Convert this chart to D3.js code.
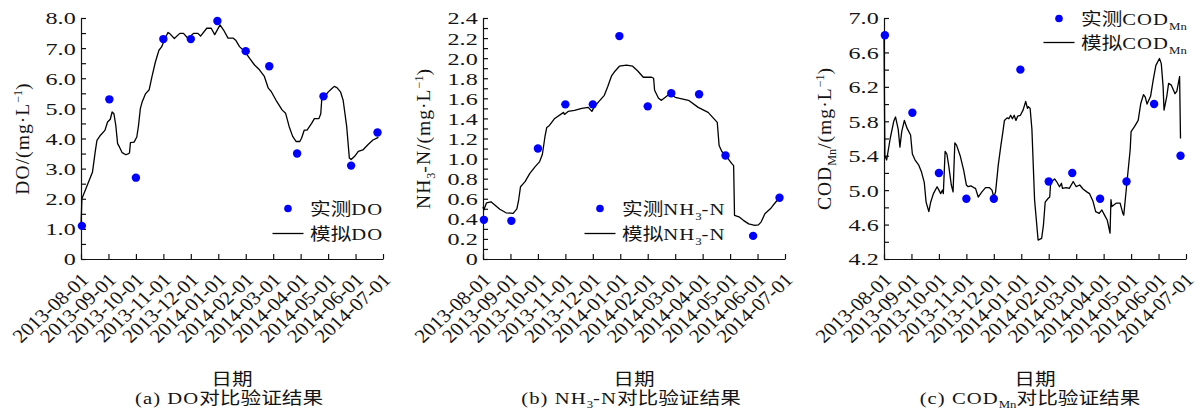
<!DOCTYPE html>
<html>
<head>
<meta charset="utf-8">
<script src="https://cdn.jsdelivr.net/npm/d3@7"></script>
<style>
  body { margin: 0; background: #fff; }
  svg { display: block; }
  text { font-family: "Liberation Serif", "Times New Roman", "Noto Sans CJK SC", serif; fill: #141414; }
</style>
</head>
<body>
<svg id="chart" width="1201" height="419"></svg>
<script>
// ---- data ----
const monthTicks = ["2013-08-01","2013-09-01","2013-10-01","2013-11-01","2013-12-01","2014-01-01",
                    "2014-02-01","2014-03-01","2014-04-01","2014-05-01","2014-06-01","2014-07-01"];

const obsDates = ["2013-08-02","2013-09-02","2013-10-01","2013-11-01","2013-12-01","2013-12-31",
                  "2014-02-01","2014-02-25","2014-03-28","2014-04-26","2014-05-27","2014-06-25"];

const doObs  = [1.1, 5.3, 2.7, 7.3, 7.3, 7.9, 6.9, 6.4, 3.5, 5.4, 3.1, 4.2];
const nhObs  = [0.39, 0.38, 1.10, 1.54, 1.54, 2.22, 1.52, 1.65, 1.64, 1.03, 0.23, 0.61];
const codObs = [6.8, 5.9, 5.2, 4.9, 4.9, 6.4, 5.1, 5.2, 4.9, 5.1, 6.0, 5.4];

const doTicks = [0, 1, 2, 3, 4, 5, 6, 7, 8];
const doMinor = [0.5, 1.5, 2.5, 3.5, 4.5, 5.5, 6.5, 7.5];
const nhTicks = [0, 0.2, 0.4, 0.6, 0.8, 1.0, 1.2, 1.4, 1.6, 1.8, 2.0, 2.2, 2.4];
const nhMinor = [0.1, 0.3, 0.5, 0.7, 0.9, 1.1, 1.3, 1.5, 1.7, 1.9, 2.1, 2.3];
const codTicks = [4.2, 4.6, 5.0, 5.4, 5.8, 6.2, 6.6, 7.0];
const codMinor = [4.4, 4.8, 5.2, 5.6, 6.0, 6.4, 6.8];

const doSim = [
  ["2013-08-01",1.1],["2013-08-02",2.0],["2013-08-14",2.89],["2013-08-17",3.55],["2013-08-19",3.94],
  ["2013-08-23",4.11],["2013-08-28",4.27],["2013-08-31",4.55],["2013-09-03",4.64],["2013-09-05",4.88],
  ["2013-09-07",4.82],["2013-09-09",4.44],["2013-09-11",3.83],["2013-09-13",3.72],["2013-09-16",3.53],
  ["2013-09-20",3.46],["2013-09-23",3.50],["2013-09-24",3.52],["2013-09-25",3.86],["2013-09-29",3.88],
  ["2013-10-02",4.05],["2013-10-04",4.44],["2013-10-06",4.99],["2013-10-08",5.21],["2013-10-12",5.49],
  ["2013-10-16",5.62],["2013-10-19",6.04],["2013-10-23",6.54],["2013-10-27",6.93],["2013-10-30",7.04],
  ["2013-11-02",7.26],["2013-11-06",7.52],["2013-11-08",7.48],["2013-11-13",7.32],["2013-11-19",7.49],
  ["2013-11-23",7.49],["2013-11-28",7.32],["2013-12-04",7.49],["2013-12-09",7.49],["2013-12-12",7.40],
  ["2013-12-19",7.66],["2013-12-24",7.66],["2013-12-28",7.45],["2014-01-03",7.77],["2014-01-07",7.60],
  ["2014-01-12",7.33],["2014-01-18",7.33],["2014-01-21",7.25],["2014-01-25",7.05],["2014-01-31",6.88],
  ["2014-02-05",6.66],["2014-02-10",6.44],["2014-02-15",6.28],["2014-02-20",6.06],["2014-02-24",5.67],
  ["2014-02-27",5.56],["2014-03-05",5.23],["2014-03-11",4.95],["2014-03-15",4.84],["2014-03-19",4.40],
  ["2014-03-23",4.07],["2014-03-27",3.90],["2014-03-31",3.90],["2014-04-02",4.01],["2014-04-05",4.28],
  ["2014-04-08",4.28],["2014-04-13",4.50],["2014-04-16",4.66],["2014-04-21",4.66],["2014-04-23",4.82],
  ["2014-04-24",5.27],["2014-04-27",5.38],["2014-05-01",5.54],["2014-05-05",5.65],["2014-05-08",5.73],
  ["2014-05-11",5.69],["2014-05-15",5.55],["2014-05-18",5.27],["2014-05-22",4.40],["2014-05-25",3.35],
  ["2014-05-27",3.30],["2014-05-31",3.41],["2014-06-04",3.57],["2014-06-09",3.62],["2014-06-15",3.81],
  ["2014-06-20",3.95],["2014-06-26",4.04]
];

const nhSim = [
  ["2013-08-01",0.52],["2013-08-02",0.49],["2013-08-05",0.56],["2013-08-10",0.57],["2013-08-20",0.495],
  ["2013-08-27",0.46],["2013-09-04",0.455],["2013-09-08",0.50],["2013-09-10",0.59],["2013-09-12",0.72],
  ["2013-09-17",0.77],["2013-09-22",0.85],["2013-09-28",0.92],["2013-10-03",0.97],["2013-10-06",1.04],
  ["2013-10-09",1.22],["2013-10-11",1.31],["2013-10-14",1.33],["2013-10-20",1.40],["2013-10-30",1.46],
  ["2013-10-31",1.44],["2013-11-04",1.47],["2013-11-11",1.48],["2013-11-19",1.50],["2013-11-26",1.51],
  ["2013-11-30",1.47],["2013-12-03",1.52],["2013-12-09",1.58],["2013-12-14",1.63],["2013-12-18",1.72],
  ["2013-12-22",1.82],["2013-12-26",1.87],["2013-12-31",1.92],["2014-01-08",1.93],["2014-01-15",1.92],
  ["2014-01-21",1.87],["2014-01-27",1.81],["2014-02-05",1.81],["2014-02-07",1.80],["2014-02-08",1.68],
  ["2014-02-12",1.60],["2014-02-15",1.58],["2014-02-19",1.61],["2014-02-24",1.65],["2014-03-01",1.61],
  ["2014-03-16",1.58],["2014-03-27",1.51],["2014-04-07",1.46],["2014-04-13",1.40],["2014-04-17",1.36],
  ["2014-04-19",1.13],["2014-04-22",1.07],["2014-04-27",1.02],["2014-05-03",0.95],["2014-05-05",0.93],
  ["2014-05-06",0.435],["2014-05-11",0.42],["2014-05-16",0.385],["2014-05-22",0.35],["2014-05-29",0.335],
  ["2014-06-02",0.34],["2014-06-05",0.37],["2014-06-09",0.45],["2014-06-15",0.50],["2014-06-18",0.535],
  ["2014-06-24",0.60],["2014-06-26",0.62]
];

const codSim = [
  ["2013-08-01",6.80],["2013-08-02",5.40],["2013-08-04",5.35],["2013-08-08",5.60],["2013-08-12",5.80],
  ["2013-08-14",5.85],["2013-08-17",5.71],["2013-08-19",5.50],["2013-08-21",5.68],["2013-08-24",5.81],
  ["2013-08-27",5.72],["2013-08-31",5.64],["2013-09-02",5.42],["2013-09-05",5.35],["2013-09-09",5.29],
  ["2013-09-12",5.21],["2013-09-15",5.09],["2013-09-17",4.86],["2013-09-20",4.75],["2013-09-22",4.86],
  ["2013-09-25",4.96],["2013-09-29",5.04],["2013-10-01",5.00],["2013-10-03",4.96],["2013-10-05",5.00],
  ["2013-10-06",4.96],["2013-10-08",5.45],["2013-10-10",5.42],["2013-10-12",5.29],["2013-10-15",5.06],
  ["2013-10-17",4.98],["2013-10-19",5.55],["2013-10-21",5.52],["2013-10-25",5.40],["2013-10-29",5.23],
  ["2013-11-01",5.06],["2013-11-03",5.04],["2013-11-06",5.05],["2013-11-09",5.03],["2013-11-11",5.02],
  ["2013-11-14",4.92],["2013-11-18",4.98],["2013-11-22",5.03],["2013-11-26",5.03],["2013-11-29",5.00],
  ["2013-12-01",4.92],["2013-12-03",4.98],["2013-12-06",5.29],["2013-12-09",5.52],["2013-12-11",5.66],
  ["2013-12-13",5.81],["2013-12-16",5.84],["2013-12-18",5.83],["2013-12-20",5.87],["2013-12-22",5.83],
  ["2013-12-24",5.87],["2013-12-26",5.81],["2013-12-28",5.86],["2013-12-31",5.87],["2014-01-03",5.93],
  ["2014-01-06",6.03],["2014-01-08",5.95],["2014-01-09",5.97],["2014-01-11",5.95],["2014-01-13",5.71],
  ["2014-01-16",4.89],["2014-01-20",4.42],["2014-01-24",4.44],["2014-01-26",4.59],["2014-01-28",4.86],
  ["2014-01-31",4.90],["2014-02-02",4.92],["2014-02-03",5.09],["2014-02-07",5.13],["2014-02-09",5.10],
  ["2014-02-12",5.04],["2014-02-14",5.08],["2014-02-15",5.02],["2014-02-19",5.03],["2014-02-22",5.02],
  ["2014-02-26",5.10],["2014-03-01",5.04],["2014-03-05",5.06],["2014-03-09",5.01],["2014-03-13",4.98],
  ["2014-03-16",4.96],["2014-03-20",4.87],["2014-03-23",4.75],["2014-03-27",4.73],["2014-03-30",4.77],
  ["2014-04-02",4.71],["2014-04-05",4.65],["2014-04-08",4.50],["2014-04-09",4.89],["2014-04-10",4.81],
  ["2014-04-15",4.85],["2014-04-19",4.85],["2014-04-22",4.73],["2014-04-23",4.71],["2014-04-26",5.04],
  ["2014-04-30",5.47],["2014-05-01",5.68],["2014-05-05",5.74],["2014-05-09",5.81],["2014-05-12",6.01],
  ["2014-05-15",6.11],["2014-05-17",6.08],["2014-05-19",6.00],["2014-05-23",6.09],["2014-05-26",6.28],
  ["2014-05-29",6.45],["2014-06-02",6.53],["2014-06-04",6.47],["2014-06-06",6.20],["2014-06-07",5.93],
  ["2014-06-10",6.09],["2014-06-12",6.24],["2014-06-15",6.22],["2014-06-19",6.12],["2014-06-21",6.15],
  ["2014-06-24",6.32],["2014-06-25",5.60]
];

// ---- layout & style ----
const FS = 17.5;      // base font size
const SX = 1.18;      // horizontal widening of all lettering
const LATIN_GAP = 0.9; // extra tracking for Latin runs
const TOP = 18, BOTTOM = 259;
const DOT = "#0000ff";

const svg = d3.select("#chart");

// month position: whole months since 2013-08 plus fraction of the month
function monthPos(s) {
  const [y, m, d] = s.split("-").map(Number);
  const dim = new Date(y, m, 0).getDate();
  return (y - 2013) * 12 + (m - 8) + (d - 1) / dim;
}

// text built from segments; [str,"sub"] / [str,"sup"] shift and shrink.
// Latin runs get a little extra tracking.
function richText(g, x, y, segs, { size = FS, anchor = "start", rotate = 0, sx = SX, along = 1 } = {}) {
  let tf = `translate(${x},${y}) scale(${sx},1)`;
  if (rotate) tf += ` rotate(${rotate})`;
  if (along !== 1) tf += ` scale(${along},1)`;
  const t = g.append("text").attr("transform", tf)
    .attr("text-anchor", anchor).attr("font-size", size);
  let shift = 0;
  segs.forEach(s => {
    const [str, kind] = typeof s === "string" ? [s, null] : s;
    let target = 0, fs = size;
    if (kind === "sub") { target = size * 0.28; fs = size * 0.62; }
    if (kind === "sup") { target = -size * 0.38; fs = size * 0.62; }
    // split into CJK / non-CJK runs
    const runs = str.match(/[\u3400-\u9fff]+|[^\u3400-\u9fff]+/g) || [];
    runs.forEach((r, k) => {
      const latin = !/[\u3400-\u9fff]/.test(r);
      const ts = t.append("tspan").attr("font-size", fs).text(r);
      if (k === 0) ts.attr("dy", target - shift);
      if (latin && !kind) ts.attr("letter-spacing", LATIN_GAP);
    });
    shift = target;
  });
  return t;
}

const unit = ["/(mg·L", ["−1", "sup"], ")"];

const panels = [
  { x0: 81, x1: 383, domain: [0, 8], ticks: doTicks, minor: doMinor,
    fmt: d => d === 0 ? "0" : d.toFixed(1),
    obs: doObs, sim: doSim,
    ytitle: ["DO", ...unit], titleX: 29,
    legend: { x: 288, y1: 208.5, y2: 233.5, obs: ["实测DO"], sim: ["模拟DO"] },
    caption: ["(a) DO对比验证结果"], capX: 229 },
  { x0: 483, x1: 785, domain: [0, 2.4], ticks: nhTicks, minor: nhMinor,
    fmt: d => d === 0 ? "0" : d.toFixed(1),
    obs: nhObs, sim: nhSim,
    ytitle: ["NH", ["3", "sub"], "-N", ...unit], titleX: 430,
    legend: { x: 600, y1: 208.5, y2: 233.5, obs: ["实测NH", ["3", "sub"], "-N"], sim: ["模拟NH", ["3", "sub"], "-N"] },
    caption: ["(b) NH", ["3", "sub"], "-N对比验证结果"], capX: 631 },
  { x0: 884, x1: 1186, domain: [4.2, 7.0], ticks: codTicks, minor: codMinor,
    fmt: d => d.toFixed(1),
    obs: codObs, sim: codSim,
    ytitle: ["COD", ["Mn", "sub"], ...unit], titleX: 831,
    legend: { x: 1059, y1: 18.5, y2: 42.5, obs: ["实测COD", ["Mn", "sub"]], sim: ["模拟COD", ["Mn", "sub"]] },
    caption: ["(c) COD", ["Mn", "sub"], "对比验证结果"], capX: 1030 }
];

panels.forEach(p => {
  const g = svg.append("g");
  const x = d3.scaleLinear().domain([0, 11]).range([p.x0, p.x1]);
  const y = d3.scaleLinear().domain(p.domain).range([BOTTOM, TOP]);

  // x axis with inward ticks and slanted date labels
  const xAxis = g.append("g")
    .attr("transform", `translate(0,${BOTTOM})`)
    .call(d3.axisBottom(x)
      .tickValues(monthTicks.map(monthPos))
      .tickFormat((d, i) => monthTicks[i])
      .tickSizeInner(-5).tickSizeOuter(0));
  xAxis.selectAll("text")
    .attr("y", null).attr("dy", null)
    .attr("text-anchor", "end")
    .attr("font-size", 19)
    .attr("font-family", null)
    .attr("transform", "translate(8.5,22) scale(1.1,1) rotate(-45)");

  // y axis: labelled majors plus unlabelled minors, ticks inward
  const yAxis = g.append("g")
    .attr("transform", `translate(${p.x0},0)`)
    .call(d3.axisLeft(y).tickValues(p.ticks).tickFormat(p.fmt)
      .tickSizeInner(-5).tickSizeOuter(0).tickPadding(3));
  yAxis.selectAll("text")
    .attr("font-size", FS).attr("font-family", null).attr("dy", "0.34em")
    .attr("transform", function () {
      const tx = +d3.select(this).attr("x");
      return `translate(${tx * (1.38 - 1)},0) scale(1.38,1)`;
    });
  g.append("g")
    .attr("transform", `translate(${p.x0},0)`)
    .call(d3.axisLeft(y).tickValues(p.minor).tickFormat("")
      .tickSizeInner(-5).tickSizeOuter(0))
    .select(".domain").remove();

  g.selectAll(".domain, .tick line").attr("stroke", "#111").attr("stroke-width", 1.2);

  // simulated series
  g.append("path")
    .datum(p.sim)
    .attr("fill", "none").attr("stroke", "#000").attr("stroke-width", 1.3)
    .attr("stroke-linejoin", "round")
    .attr("d", d3.line().x(d => x(monthPos(d[0]))).y(d => y(d[1])));

  // observed points
  g.selectAll("circle.obs")
    .data(p.obs)
    .join("circle").attr("class", "obs")
    .attr("cx", (d, i) => x(monthPos(obsDates[i])))
    .attr("cy", d => y(d))
    .attr("r", 4.2).attr("fill", DOT);

  // legend
  const L = p.legend;
  g.append("circle").attr("cx", L.x).attr("cy", L.y1).attr("r", 3.8).attr("fill", DOT);
  g.append("line").attr("x1", L.x - 15.5).attr("x2", L.x + 15.5)
    .attr("y1", L.y2).attr("y2", L.y2).attr("stroke", "#000").attr("stroke-width", 1.3);
  richText(g, L.x + 22, L.y1 + 6.5, L.obs);
  richText(g, L.x + 22, L.y2 + 6.5, L.sim);

  // axis titles and caption
  richText(g, p.titleX, (TOP + BOTTOM) / 2, p.ytitle, { anchor: "middle", rotate: -90, sx: 1.1, along: 1.12 });
  richText(g, (p.x0 + p.x1) / 2, 384.5, ["日期"], { anchor: "middle" });
  richText(g, p.capX, 403.5, p.caption, { anchor: "middle" });
});
</script>
</body>
</html>
